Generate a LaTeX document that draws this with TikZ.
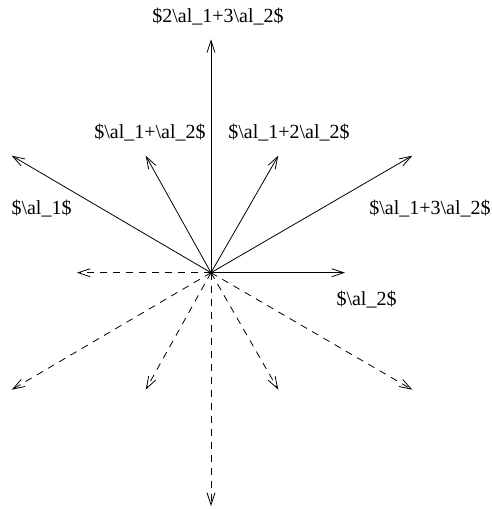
\documentclass[tikz,border=0pt]{standalone}
\usepackage{fontspec}
\setmainfont{Liberation Serif}
\usetikzlibrary{arrows.meta}
\begin{document}
\begin{tikzpicture}[x=1pt,y=-1pt,
  root/.style={line width=0.8pt,-{Straight Barb[length=12pt,width=8pt,line width=0.8pt]}},
  negroot/.style={root,dash pattern=on 7pt off 6pt},
  lbl/.style={font=\fontsize{20}{24}\selectfont,inner sep=0pt}]
\useasboundingbox (0,0) rectangle (491,509);
\coordinate (o) at (211,272.7);
% positive roots
\coordinate (a1) at (11.7,155.7);
\coordinate (a1a2) at (145.7,155.7);
\coordinate (top) at (211,39.3);
\coordinate (a12a2) at (278.3,155.7);
\coordinate (a13a2) at (412.3,155.7);
\coordinate (a2) at (345,272.7);
% negative roots
\coordinate (na2) at (77,272.7);
\coordinate (na13a2) at (11.7,389.7);
\coordinate (na12a2) at (145.7,389.7);
\coordinate (ntop) at (211,506);
\coordinate (na1a2) at (278.3,389.7);
\coordinate (na1) at (412.3,389.7);
\foreach \t in {a1,a1a2,top,a12a2,a13a2,a2}
  \draw[root] (o) -- (\t);
\foreach \t in {na2,na13a2,na12a2,ntop,na1a2,na1}
  \draw[negroot] (o) -- (\t);
\fill (o) circle (1.8pt);
% labels
\node[lbl] (l1) at (218,16.7) {\$2\textbackslash al\_1+3\textbackslash al\_2\$};
\node[lbl] (l2) at (150,133) {\$\textbackslash al\_1+\textbackslash al\_2\$};
\node[lbl] (l3) at (289,133) {\$\textbackslash al\_1+2\textbackslash al\_2\$};
\node[lbl] (l4) at (41.5,209) {\$\textbackslash al\_1\$};
\node[lbl] (l5) at (430,209) {\$\textbackslash al\_1+3\textbackslash al\_2\$};
\node[lbl] (l6) at (366.5,300) {\$\textbackslash al\_2\$};
\end{tikzpicture}
\end{document}
